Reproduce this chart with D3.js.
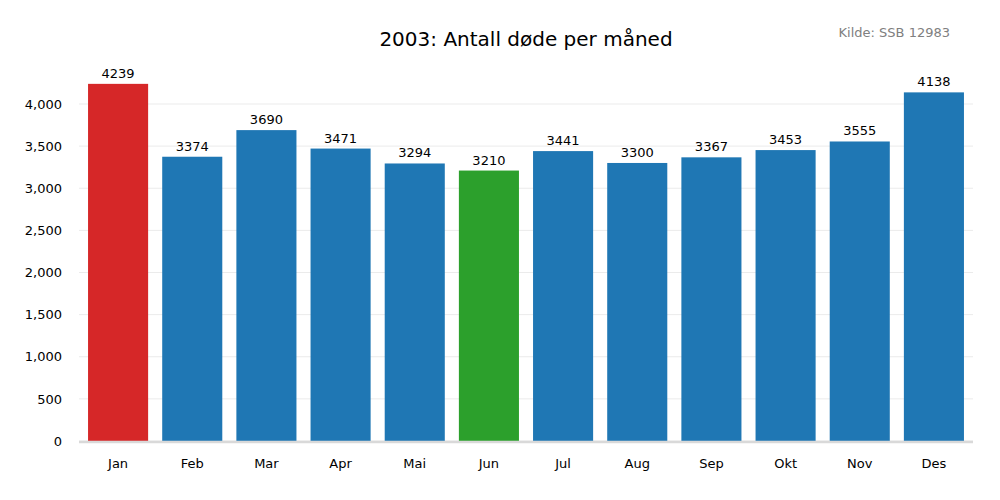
<!DOCTYPE html>
<html><head><meta charset="utf-8">
<script src="https://cdn.jsdelivr.net/npm/d3@7"></script>
<style>body{margin:0;background:#fff}text{font-family:"DejaVu Sans",sans-serif}</style>
</head><body><svg id="c" width="1000" height="500"></svg>
<script>
const months=["Jan","Feb","Mar","Apr","Mai","Jun","Jul","Aug","Sep","Okt","Nov","Des"];
const deaths=[4239,3374,3690,3471,3294,3210,3441,3300,3367,3453,3555,4138];
const yTicks=[0,500,1000,1500,2000,2500,3000,3500,4000];
const svg=d3.select("#c");
const x=d3.scaleBand().domain(months).range([81,971]).paddingInner(0.19).paddingOuter(0.095);
const y=d3.scaleLinear().domain([0,4451]).range([441,66]);
const maxV=d3.max(deaths),minV=d3.min(deaths);
svg.append("g").selectAll("line").data(yTicks).join("line")
 .attr("x1",79).attr("x2",973).attr("y1",d=>y(d)).attr("y2",d=>y(d)).attr("stroke","#ebebeb");
svg.append("g").selectAll("rect").data(deaths).join("rect")
 .attr("x",(d,i)=>x(months[i])).attr("width",x.bandwidth())
 .attr("y",d=>y(d)).attr("height",d=>y(0)-y(d))
 .attr("fill",d=>d===maxV?"#d62728":d===minV?"#2ca02c":"#1f77b4");
svg.append("g").selectAll("text").data(deaths).join("text")
 .attr("x",(d,i)=>x(months[i])+x.bandwidth()/2).attr("y",d=>y(d)-6)
 .attr("text-anchor","middle").attr("font-size",13).text(d=>d);
svg.append("line").attr("x1",79).attr("x2",973).attr("y1",442).attr("y2",442).attr("stroke","#d9d9d9").attr("stroke-width",2.5);
const ya=svg.append("g").attr("transform","translate(79,0)").call(d3.axisLeft(y).tickValues(yTicks).tickSize(0).tickPadding(17));
ya.select(".domain").remove();
ya.selectAll("text").attr("font-size",13).attr("fill","#000").style("font-family","DejaVu Sans");
const xa=svg.append("g").attr("transform","translate(0,442)").call(d3.axisBottom(x).tickSize(0).tickPadding(17));
xa.select(".domain").remove();
xa.selectAll("text").attr("font-size",13).attr("fill","#000").style("font-family","DejaVu Sans");
svg.append("text").attr("x",526).attr("y",46).attr("text-anchor","middle").attr("font-size",20).text("2003: Antall døde per måned");
svg.append("text").attr("x",950).attr("y",37).attr("text-anchor","end").attr("font-size",13).attr("fill","#808080").text("Kilde: SSB 12983");
</script></body></html>
